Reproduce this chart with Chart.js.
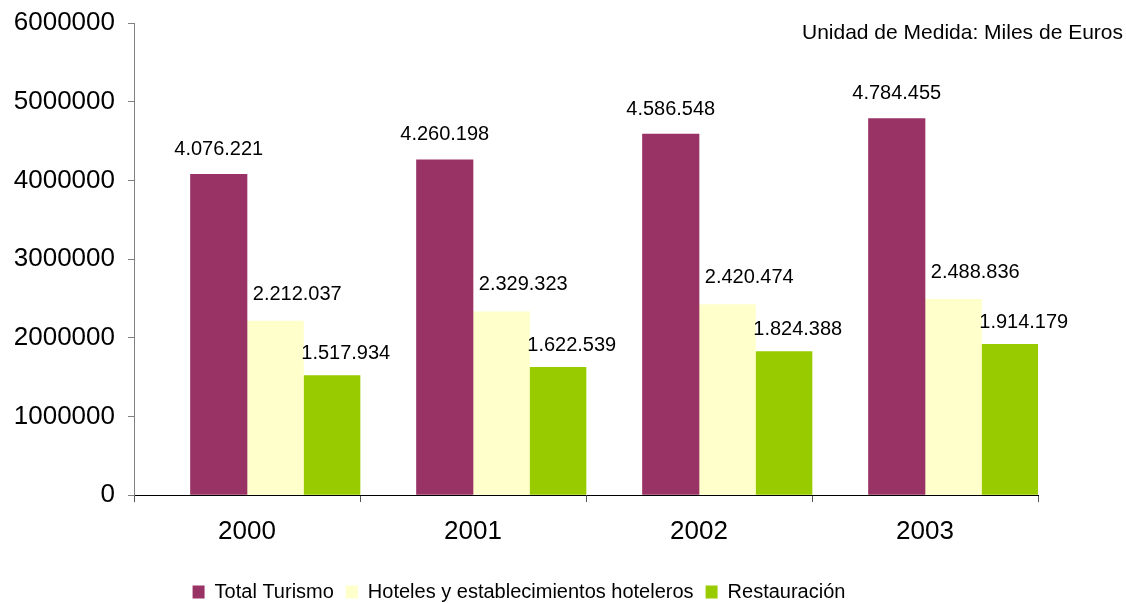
<!DOCTYPE html>
<html lang="es">
<head>
<meta charset="utf-8">
<title>Turismo 2000-2003</title>
<script src="https://cdn.jsdelivr.net/npm/chart.js@4.4.1/dist/chart.umd.min.js"></script>
<style>
  html, body { margin: 0; padding: 0; background: #ffffff; }
  #wrap { width: 1126px; height: 603px; position: relative; }
</style>
</head>
<body>
<div id="wrap"><canvas id="chart" width="1126" height="603"></canvas></div>
<script>
// Years on the category axis
const years = ['2000', '2001', '2002', '2003'];

// Values in thousands of euros
const totalTurismo = [4076221, 4260198, 4586548, 4784455];
const hoteles = [2212037, 2329323, 2420474, 2488836];
const restauracion = [1517934, 1622539, 1824388, 1914179];

// Value axis ticks
const yTicks = [0, 1000000, 2000000, 3000000, 4000000, 5000000, 6000000];

const seriesNames = ['Total Turismo', 'Hoteles y establecimientos hoteleros', 'Restauración'];
const unitNote = 'Unidad de Medida: Miles de Euros';

const FONT = 'Arial, "Liberation Sans", sans-serif';

// Spanish-style thousands separator
function fmt(v) {
  return String(v).replace(/\B(?=(\d{3})+(?!\d))/g, '.');
}

// Value labels above each bar, nudged per series
const valueLabels = {
  id: 'valueLabels',
  afterDatasetsDraw(chart, args, opts) {
    const ctx = chart.ctx;
    ctx.save();
    ctx.font = '20px ' + FONT;
    ctx.fillStyle = '#000';
    ctx.textAlign = 'center';
    ctx.textBaseline = 'middle';
    chart.data.datasets.forEach((ds, i) => {
      if (ds.spacer) return;
      const meta = chart.getDatasetMeta(i);
      const off = opts.offsets[ds.seriesIndex];
      meta.data.forEach((bar, j) => {
        ctx.fillText(fmt(ds.data[j]), bar.x + off[0], bar.y + off[1]);
      });
    });
    ctx.restore();
  }
};

// Unit note in the top-right corner
const unitText = {
  id: 'unitText',
  afterDraw(chart) {
    const ctx = chart.ctx;
    ctx.save();
    ctx.font = '21px ' + FONT;
    ctx.fillStyle = '#000';
    ctx.textAlign = 'right';
    ctx.textBaseline = 'middle';
    ctx.fillText(unitNote, chart.width - 3, 33);
    ctx.restore();
  }
};

new Chart(document.getElementById('chart'), {
  type: 'bar',
  data: {
    labels: years,
    datasets: [
      // empty slot on the left of each year group, pushes the bars right
      { label: '', data: years.map(() => null), spacer: true, backgroundColor: 'rgba(0,0,0,0)' },
      { label: seriesNames[0], data: totalTurismo, seriesIndex: 0, backgroundColor: '#993366' },
      { label: seriesNames[1], data: hoteles, seriesIndex: 1, backgroundColor: '#FFFFCC' },
      { label: seriesNames[2], data: restauracion, seriesIndex: 2, backgroundColor: '#99CC00' }
    ]
  },
  options: {
    responsive: false,
    animation: false,
    datasets: { bar: { categoryPercentage: 1.0, barPercentage: 1.0, borderWidth: 0 } },
    layout: { padding: { top: 0, right: 88, bottom: -9, left: 0 } },
    scales: {
      x: {
        grid: { display: true, drawOnChartArea: false, drawTicks: true, tickLength: 7, color: '#555', offset: true },
        border: { display: true, color: '#000', width: 1 },
        ticks: { color: '#000', font: { family: FONT, size: 26 }, padding: 14 },
        afterFit(scale) { scale.height = 75; }
      },
      y: {
        min: 0,
        max: 6000000,
        afterBuildTicks(scale) { scale.ticks = yTicks.map(v => ({ value: v })); },
        grid: { display: true, drawOnChartArea: false, drawTicks: true, tickLength: 6, color: '#808080' },
        border: { display: true, color: '#808080', width: 1 },
        ticks: { color: '#000', font: { family: FONT, size: 26 }, padding: 13, callback: v => String(v) },
        afterFit(scale) { scale.width = 134; scale.paddingTop = 23; }
      }
    },
    plugins: {
      legend: {
        position: 'bottom',
        labels: {
          color: '#000',
          font: { family: FONT, size: 20 },
          boxWidth: 12,
          boxHeight: 13,
          padding: 12,
          filter: (item, data) => !data.datasets[item.datasetIndex].spacer
        }
      },
      tooltip: { enabled: false },
      valueLabels: { offsets: [[0, -25], [22, -27], [14, -22]] }
    }
  },
  plugins: [valueLabels, unitText]
});
</script>
</body>
</html>
